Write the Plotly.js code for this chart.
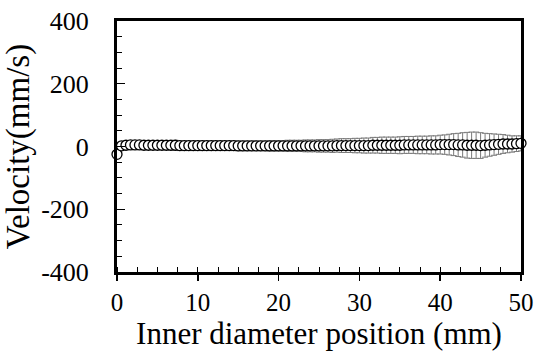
<!DOCTYPE html>
<html>
<head>
<meta charset="utf-8">
<script src="https://cdn.plot.ly/plotly-3.0.1.min.js"></script>
<style>html,body{margin:0;padding:0;background:#fff;}#chart{width:539px;height:351px;}</style>
</head>
<body>
<div id="chart"></div>
<script>
// Inner diameter positions (mm): 91 measurement points from 0 to 50 mm
const positionIndex = [0,1,2,3,4,5,6,7,8,9,10,11,12,13,14,15,16,17,18,19,20,21,22,23,24,25,26,27,28,29,30,31,32,33,34,35,36,37,38,39,40,41,42,43,44,45,46,47,48,49,50,51,52,53,54,55,56,57,58,59,60,61,62,63,64,65,66,67,68,69,70,71,72,73,74,75,76,77,78,79,80,81,82,83,84,85,86,87,88,89,90];
const positionStep = 50 / 90;
const positions = positionIndex.map(i => i * positionStep);

// Mean velocity (mm/s)
const velocity = [-25, 2, 4, 5, 5, 5, 4, 4, 4, 4,
  4, 4, 4, 4, 3, 3, 3, 3, 3, 3,
  3, 3, 3, 3, 3, 3, 3, 2, 2, 2,
  2, 2, 2, 2, 2, 2, 2, 2, 2, 2,
  2, 2, 2, 2, 2, 2, 2, 2, 2, 3,
  3, 3, 3, 3, 3, 3, 3, 4, 4, 4,
  4, 4, 4, 4, 5, 5, 5, 5, 5, 5,
  5, 5, 6, 6, 6, 6, 5, 5, 4, 4,
  4, 3, 4, 5, 6, 7, 8, 8, 8, 9,
  10];

// Standard deviation (mm/s)
const velocityError = [8, 8, 8, 8, 9, 9, 10, 10, 11, 12,
  13, 14, 15, 16, 16, 16, 16, 16, 16, 16,
  16, 16, 16, 16, 16, 16, 16, 16, 16, 16,
  16, 16, 16, 16, 17, 17, 17, 17, 18, 18,
  18, 18, 19, 19, 19, 20, 20, 20, 21, 21,
  22, 22, 22, 23, 23, 24, 24, 25, 25, 26,
  26, 26, 26, 27, 27, 27, 27, 28, 28, 28,
  29, 29, 30, 31, 33, 35, 37, 39, 41, 42,
  42, 41, 38, 36, 34, 32, 30, 28, 26, 25,
  24];

const xTickVals = [0, 10, 20, 30, 40, 50];
const yTickVals = [-400, -200, 0, 200, 400];

const fontFam = 'Liberation Serif';

const trace = {
  x: positions,
  y: velocity,
  type: 'scatter',
  mode: 'markers',
  cliponaxis: false,
  marker: {symbol: 'circle', size: 10, color: '#ffffff', line: {color: '#000000', width: 1.3}},
  error_y: {type: 'data', array: velocityError, visible: true, color: '#7a7a7a', thickness: 1, width: 3}
};

const layout = {
  width: 539, height: 351,
  margin: {l: 117, r: 18, t: 21, b: 79},
  paper_bgcolor: '#ffffff', plot_bgcolor: '#ffffff',
  showlegend: false,
  font: {family: fontFam, color: '#000000'},
  xaxis: {
    range: [0, 50], tickvals: xTickVals, ticktext: xTickVals.map(String),
    ticks: 'outside', ticklen: 6, tickwidth: 1.5, tickcolor: '#000',
    minor: {dtick: 2.5, ticks: 'inside', ticklen: 5, tickwidth: 1, tickcolor: '#000'},
    showline: true, linewidth: 3, linecolor: '#000', mirror: true,
    showgrid: false, zeroline: false,
    ticklabelstandoff: 0,
    tickfont: {family: fontFam, size: 25, color: '#000'},
    title: {text: 'Inner diameter position (mm)', font: {family: fontFam, size: 31, color: '#000'}, standoff: 0}
  },
  yaxis: {
    range: [-400, 400], tickvals: yTickVals, ticktext: yTickVals.map(String),
    ticks: 'inside', ticklen: 8, tickwidth: 1.2, tickcolor: '#000',
    minor: {dtick: 50, ticks: 'inside', ticklen: 5, tickwidth: 1, tickcolor: '#000'},
    showline: true, linewidth: 3, linecolor: '#000', mirror: true,
    showgrid: false, zeroline: false,
    ticklabelstandoff: 20,
    tickfont: {family: fontFam, size: 26, color: '#000'},
    title: {text: 'Velocity(mm/s)', font: {family: fontFam, size: 33, color: '#000'}, standoff: 4}
  }
};

Plotly.newPlot('chart', [trace], layout, {displayModeBar: false, staticPlot: true});
</script>
</body>
</html>
